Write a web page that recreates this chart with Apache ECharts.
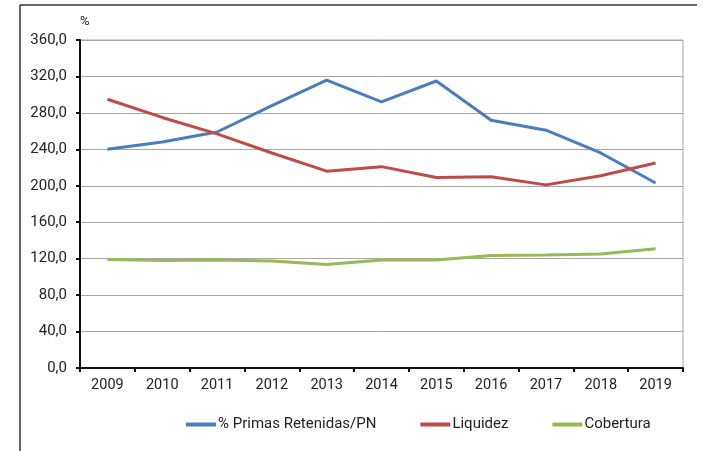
<!DOCTYPE html>
<html>
<head>
<meta charset="utf-8">
<script src="https://cdn.jsdelivr.net/npm/echarts@6/dist/echarts.min.js"></script>
<style>html,body{margin:0;padding:0;background:#fff}#c{width:707px;height:451px}</style>
</head>
<body>
<div id="c"></div>
<script>
const years = ['2009','2010','2011','2012','2013','2014','2015','2016','2017','2018','2019'];
const primasRetenidas = [240, 248, 259, 288, 316, 292, 315, 272, 261, 236, 203];
const liquidez = [295, 275, 257, 236, 216, 221, 209, 210, 201, 211, 225];
const cobertura = [119, 118, 118.5, 117.5, 113.5, 118.5, 118.5, 123.5, 124, 125, 131];
const seriesNames = ['% Primas Retenidas/PN', 'Liquidez', 'Cobertura'];
const colors = ['#4a7ebb', '#be4b48', '#98b954'];

const chart = echarts.init(document.getElementById('c'), null, {renderer: 'canvas'});
const mk = (name, data, color) => ({
  name, type: 'line', data, symbol: 'none', smooth: false,
  lineStyle: {color, width: 3}, itemStyle: {color}
});
chart.setOption({
  animation: false,
  textStyle: {fontFamily: 'Roboto'},
  grid: {left: 80, right: 24, top: 40, bottom: 83, show: true, borderColor: '#a6a6a6', borderWidth: 1},
  graphic: [
    {type: 'line', shape: {x1: 20, y1: 5, x2: 697, y2: 5}, style: {stroke: '#333', lineWidth: 1.5}},
    {type: 'line', shape: {x1: 20, y1: 5, x2: 20, y2: 451}, style: {stroke: '#333', lineWidth: 1.5}}
  ],
  legend: {
    left: 181, top: 412, itemWidth: 30, itemHeight: 4, itemGap: 44,
    icon: 'rect',
    textStyle: {fontSize: 15, color: '#222', fontFamily: 'Roboto', padding: [0,0,0,-3]},
    data: seriesNames
  },
  xAxis: {
    type: 'category', data: years, boundaryGap: true,
    axisLine: {lineStyle: {color: '#111', width: 2}},
    axisTick: {show: true, length: 4, lineStyle: {color: '#111', width: 2}, alignWithLabel: false},
    axisLabel: {fontSize: 14.5, color: '#222', margin: 10},
    splitLine: {show: false}
  },
  yAxis: {
    type: 'value', min: 0, max: 360, interval: 40,
    name: '%', nameLocation: 'end', nameGap: 12,
    nameTextStyle: {fontSize: 13, color: '#222', align: 'left'},
    axisLine: {show: true, lineStyle: {color: '#111', width: 2}},
    axisTick: {show: true, length: 4, lineStyle: {color: '#111', width: 2}},
    axisLabel: {fontSize: 15, color: '#222', margin: 13, formatter: v => v.toFixed(1).replace('.', ',')},
    splitLine: {show: true, lineStyle: {color: '#a6a6a6', width: 1}}
  },
  series: [
    mk(seriesNames[0], primasRetenidas, colors[0]),
    mk(seriesNames[1], liquidez, colors[1]),
    mk(seriesNames[2], cobertura, colors[2])
  ]
});
</script>
</body>
</html>
